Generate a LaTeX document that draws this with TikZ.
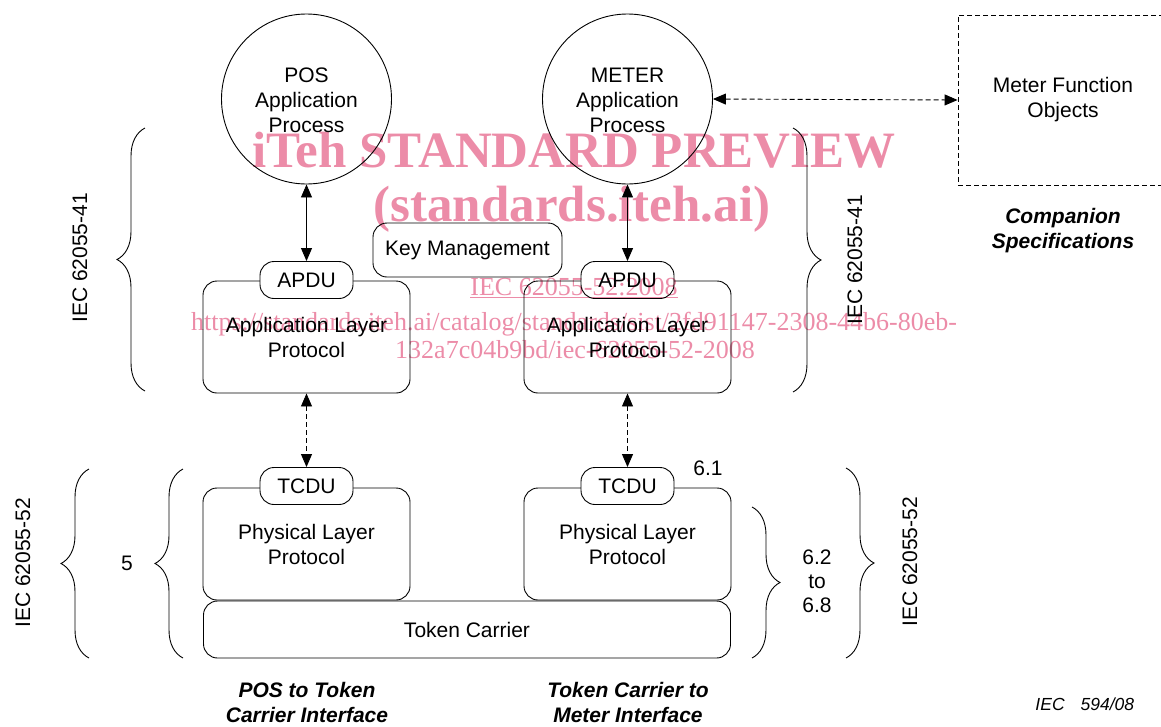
\documentclass[tikz,border=0pt]{standalone}
\usepackage{fontspec}
\setmainfont{Liberation Sans}
\newfontfamily\wmfont{Liberation Serif}
\usetikzlibrary{arrows.meta,decorations.pathreplacing}
\definecolor{wmpink}{RGB}{236,140,168}

\begin{document}
\begin{tikzpicture}[x=1pt,y=-1pt,
  every node/.style={font=\fontsize{21}{25}\selectfont, align=center, inner sep=0pt},
  line width=0.9pt,
  box/.style={draw, rounded corners=14pt, fill=white},
  pdu/.style={box, minimum width=93pt, minimum height=37pt},
  layer/.style={box, minimum width=207pt, minimum height=112pt},
  proc/.style={draw, circle, minimum size=170pt},
  link/.style={{Triangle[length=13pt,width=11pt]}-{Triangle[length=13pt,width=11pt]}},
  dlink/.style={link, dash pattern=on 5pt off 3pt},
  curly/.style={decorate, decoration={brace, amplitude=28pt}},
  caption/.style={font=\fontsize{21}{25}\selectfont\bfseries\itshape},
  wmbig/.style={text=wmpink, anchor=base, font=\fontsize{51}{51}\selectfont\wmfont\bfseries},
  wmsmall/.style={text=wmpink, anchor=base, font=\fontsize{26}{26}\selectfont\wmfont}
]
\useasboundingbox (0,0) rectangle (1161,726);
\clip (0,0) rectangle (1161,726);

% application processes
\node[proc] (pos) at (306.5,99) {};
\node at (306.5,100) {POS\\Application\\Process};
\node[proc] (meter) at (627.5,99) {};
\node at (627.5,100) {METER\\Application\\Process};

% companion specification objects
\node[draw, dash pattern=on 5pt off 3pt, minimum width=210pt, minimum height=170pt] (mfo) at (1063,100) {Meter Function\\Objects};
\node[caption] (comp) at (1063,231) {Companion\\Specifications};

% application layer
\node[layer] (appL) at (306.5,337) {Application Layer\\Protocol};
\node[layer] (appR) at (627.5,337) {Application Layer\\Protocol};
\node[pdu] (apduL) at (306.5,280) {APDU};
\node[pdu] (apduR) at (627.5,280) {APDU};
\node[box, minimum width=189pt, minimum height=54pt] (key) at (467.5,250) {Key Management};

% physical layer
\node[layer] (phyL) at (306.5,544) {Physical Layer\\Protocol};
\node[layer] (phyR) at (627.5,544) {Physical Layer\\Protocol};
\node[pdu] (tcduL) at (306.5,486) {TCDU};
\node[pdu] (tcduR) at (627.5,486) {TCDU};
\node[box, minimum width=527pt, minimum height=57pt] (token) at (467,629.5) {Token Carrier};

% connectors
\draw[link] (pos.south) -- (apduL.north);
\draw[link] (meter.south) -- (apduR.north);
\draw[dlink] (appL.south) -- (tcduL.north);
\draw[dlink] (appR.south) -- (tcduR.north);
\draw[dlink] (meter.east) -- (mfo.west);

% braces and clause labels
\draw[curly] (145,391) -- (145,128);
\draw[curly] (793,128) -- (793,392);
\draw[curly] (89,658) -- (89,469);
\draw[curly] (183,658) -- (183,469);
\draw[curly] (752,507) -- (752,658);
\draw[curly] (846,468) -- (846,658);

\node[rotate=90] (l41) at (80,258) {IEC 62055-41};
\node[rotate=90] (r41) at (855,260) {IEC 62055-41};
\node[rotate=90] (l52) at (23,563) {IEC 62055-52};
\node[rotate=90] (r52) at (910,562) {IEC 62055-52};
\node (c5) at (127,563) {5};
\node (c61) at (708,468) {6.1};
\node[font=\fontsize{21}{24}\selectfont] (c62) at (817,581) {6.2\\to\\6.8};

% interface captions
\node[caption] (capL) at (307,702) {POS to Token\\Carrier Interface};
\node[caption] (capR) at (628,702) {Token Carrier to\\Meter Interface};
\node[anchor=west, font=\fontsize{17.5}{20}\selectfont\itshape] (fig) at (1035,704) {IEC\hspace{16pt}594/08};

% preview watermark
\begin{scope}[blend mode=multiply]
\node[wmbig] (wm1) at (574,167) {iTeh STANDARD PREVIEW};
\node[wmbig] (wm2) at (572,221) {(standards.iteh.ai)};
\node[wmsmall] (wm3) at (574,295) {\underline{IEC 62055-52:2008}};
\node[wmsmall] (wm4) at (574,330) {https://standards.iteh.ai/catalog/standards/sist/2fd91147-2308-44b6-80eb-};
\node[wmsmall] (wm5) at (575,358) {132a7c04b9bd/iec-62055-52-2008};
\end{scope}
\end{tikzpicture}
\end{document}
